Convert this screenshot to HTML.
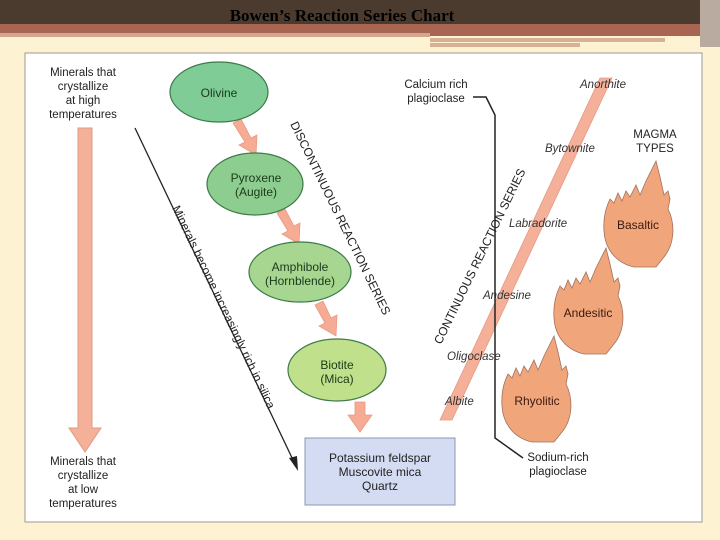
<!DOCTYPE html>
<html><head><meta charset="utf-8"><style>
body{margin:0;width:720px;height:540px;overflow:hidden;background:#fdf3d2;}
svg{display:block}
text{font-family:"Liberation Sans",sans-serif;}
</style></head><body>
<svg width="720" height="540" viewBox="0 0 720 540">
<rect width="720" height="540" fill="#fdf3d2"/>
<rect x="0" y="0" width="720" height="24" fill="#4b3b2f"/>
<rect x="0" y="24" width="720" height="9" fill="#a86652"/>
<rect x="0" y="33" width="430" height="4" fill="#d2a690"/>
<rect x="430" y="33" width="270" height="3" fill="#a86652"/>
<rect x="430" y="38" width="235" height="4" fill="#d7b196"/>
<rect x="430" y="43" width="150" height="4" fill="#d7b196"/>
<rect x="700" y="0" width="20" height="47" fill="#b9aba0"/>
<text x="342" y="21" text-anchor="middle" font-weight="bold" font-size="17" fill="#000" style="font-family:'Liberation Serif',serif">Bowen’s Reaction Series Chart</text>
<rect x="25" y="53" width="677" height="469" fill="#fff" stroke="#999" stroke-width="1"/>

<g font-size="11.5" fill="#222" text-anchor="middle">
<text x="83" y="76">Minerals that</text><text x="83" y="90">crystallize</text><text x="83" y="104">at high</text><text x="83" y="118">temperatures</text>
<text x="83" y="465">Minerals that</text><text x="83" y="479">crystallize</text><text x="83" y="493">at low</text><text x="83" y="507">temperatures</text>
</g>
<path d="M78,128 L92,128 L92,428 L101,428 L85,452 L69,428 L78,428 Z" fill="#f5b09a" stroke="#e09a84"/>

<line x1="135" y1="128" x2="294" y2="462" stroke="#222" stroke-width="1.3"/>
<path d="M298,471 L289,458 L297,456 Z" fill="#222"/>
<text transform="translate(172,208) rotate(64.5)" font-size="12" fill="#222">Minerals become increasingly rich in silica</text>

<g fill="#f5ab94" stroke="#e79a82" stroke-width="0.8">
<path d="M233,123 L241,119 L251,138 L257,135 L256,155 L239,145 L245,142 Z"/>
<path d="M277,213 L285,209 L294,226 L300,223 L299,244 L282,234 L288,231 Z"/>
<path d="M315,305 L323,301 L331,318 L337,315 L336,336 L319,326 L325,323 Z"/>
<path d="M355,402 L365,402 L365,415 L372,415 L360,432 L348,415 L355,415 Z"/>
</g>

<g stroke="#3c7a48" stroke-width="1.2">
<ellipse cx="219" cy="92" rx="49" ry="30" fill="#7fcc96"/>
<ellipse cx="255" cy="184" rx="48" ry="31" fill="#8ecd90"/>
<ellipse cx="300" cy="272" rx="51" ry="30" fill="#a6d690"/>
<ellipse cx="337" cy="370" rx="49" ry="31" fill="#c0e08c"/>
</g>
<g font-size="12" fill="#1a3a1a" text-anchor="middle">
<text x="219" y="97">Olivine</text>
<text x="256" y="182">Pyroxene</text><text x="256" y="196">(Augite)</text>
<text x="300" y="271">Amphibole</text><text x="300" y="285">(Hornblende)</text>
<text x="337" y="369">Biotite</text><text x="337" y="383">(Mica)</text>
</g>
<text transform="translate(290,124) rotate(64)" font-size="12" fill="#222">DISCONTINUOUS REACTION SERIES</text>

<rect x="305" y="438" width="150" height="67" fill="#d3dcf2" stroke="#8e97b0"/>
<g font-size="12" fill="#222" text-anchor="middle">
<text x="380" y="462">Potassium feldspar</text><text x="380" y="476">Muscovite mica</text><text x="380" y="490">Quartz</text>
</g>

<path d="M440,420 L452,420 L612,78 L600,78 Z" fill="#f5b09a" stroke="#e59a84" stroke-width="0.8"/>
<path d="M473,97 L486,97 L495,115 L495,438 L523,458" fill="none" stroke="#222" stroke-width="1.5"/>
<text transform="translate(441,345) rotate(-64)" font-size="12" fill="#222">CONTINUOUS REACTION SERIES</text>

<g font-size="11.5" fill="#222" text-anchor="middle">
<text x="436" y="88">Calcium rich</text><text x="436" y="102">plagioclase</text>
<text x="558" y="461">Sodium-rich</text><text x="558" y="475">plagioclase</text>
<text x="655" y="138">MAGMA</text><text x="655" y="152">TYPES</text>
</g>
<g font-size="11.5" fill="#333" font-style="italic">
<text x="580" y="88">Anorthite</text>
<text x="545" y="152">Bytownite</text>
<text x="509" y="227">Labradorite</text>
<text x="483" y="299">Andesine</text>
<text x="447" y="360">Oligoclase</text>
<text x="445" y="405">Albite</text>
</g>

<defs>
<path id="fl" d="M-6,104 C-24,100 -35,86 -36,68 C-37,54 -34,44 -30,36 L-26,40 L-22,30 L-18,38 L-14,28 L-10,34 L-4,22 L0,32 L6,18 L12,6 L16,-2 L20,14 L24,32 L28,28 L30,36 L28,46 C36,62 34,82 24,94 L16,104 Z" />
</defs>
<g fill="#f0a67a" stroke="#a07060" stroke-width="0.8">
<use href="#fl" transform="translate(640,163)"/>
<use href="#fl" transform="translate(590,250)"/>
<use href="#fl" transform="translate(538,338)"/>
</g>
<g font-size="12" fill="#3a1a10" text-anchor="middle">
<text x="638" y="229">Basaltic</text>
<text x="588" y="317">Andesitic</text>
<text x="537" y="405">Rhyolitic</text>
</g>
</svg>
</body></html>
